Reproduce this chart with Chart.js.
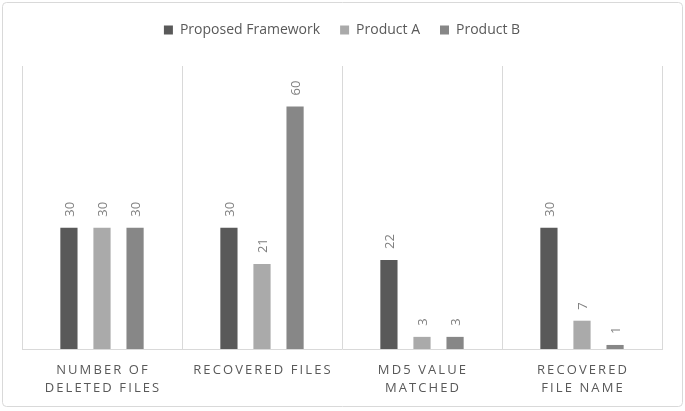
<!DOCTYPE html>
<html lang="en">
<head>
    <meta charset="UTF-8">
    <title>File Recovery Comparison</title>
    <script src="https://cdn.jsdelivr.net/npm/chart.js"></script>
    <style>
        body { margin: 0; background: #fff; }
        #wrap { width: 685px; height: 411px; position: relative; }
    </style>
</head>
<body>
    <div id="wrap"><canvas id="chartCanvas" width="685" height="411"></canvas></div>

    <script>
        const categories = [
            ['NUMBER OF', 'DELETED FILES'],
            ['RECOVERED FILES'],
            ['MD5 VALUE', 'MATCHED'],
            ['RECOVERED', 'FILE NAME']
        ];
        const proposed = [30, 30, 22, 30];
        const productA = [30, 21, 3, 7];
        const productB = [30, 60, 3, 1];

        const FONT = "'Open Sans', sans-serif";

        // frame around the whole picture
        const framePlugin = {
            id: 'frame',
            beforeDraw(chart) {
                const c = chart.ctx;
                c.save();
                c.strokeStyle = '#d9d9d9';
                c.lineWidth = 1;
                c.beginPath();
                c.roundRect(2.5, 2.5, 680, 404, 4);
                c.stroke();
                c.restore();
            }
        };

        // leave more room under the legend without moving its items
        const legendGap = {
            id: 'legendGap',
            beforeUpdate(chart) {
                const lg = chart.legend;
                if (lg && !lg._gapPatched) {
                    const fit = lg.fit;
                    lg.fit = function () {
                        fit.call(this);
                        this.height += 19;
                    };
                    lg._gapPatched = true;
                }
            }
        };

        // rotated value labels above bars
        const valueLabels = {
            id: 'valueLabels',
            afterDatasetsDraw(chart) {
                const c = chart.ctx;
                c.save();
                c.font = '13px ' + FONT;
                c.fillStyle = '#7f7f7f';
                c.textAlign = 'left';
                c.textBaseline = 'middle';
                chart.data.datasets.forEach((ds, i) => {
                    chart.getDatasetMeta(i).data.forEach((bar, j) => {
                        c.save();
                        c.translate(bar.x + 1, bar.y - 11);
                        c.rotate(-Math.PI / 2);
                        c.fillText(String(ds.data[j]), 0, 0);
                        c.restore();
                    });
                });
                c.restore();
            }
        };

        // spaced uppercase category labels
        const catLabels = {
            id: 'catLabels',
            afterDraw(chart) {
                const c = chart.ctx;
                const x = chart.scales.x;
                const bottom = chart.chartArea.bottom;
                c.save();
                c.font = '13px ' + FONT;
                c.letterSpacing = '2.1px';
                c.fillStyle = '#595959';
                c.textAlign = 'center';
                c.textBaseline = 'middle';
                categories.forEach((lines, i) => {
                    const cx = x.getPixelForValue(i);
                    lines.forEach((t, k) => {
                        c.fillText(t, cx + 1, bottom + 21 + k * 18);
                    });
                });
                c.restore();
            }
        };

        new Chart(document.getElementById('chartCanvas'), {
            type: 'bar',
            data: {
                labels: categories,
                datasets: [
                    { label: 'Proposed Framework', data: proposed, backgroundColor: '#595959' },
                    { label: 'Product A', data: productA, backgroundColor: '#aaaaaa' },
                    { label: 'Product B', data: productB, backgroundColor: '#878787' }
                ]
            },
            options: {
                responsive: false,
                animation: false,
                categoryPercentage: 0.62,
                barPercentage: 0.52,
                layout: { padding: { left: 22, right: 23, top: 3, bottom: 62 } },
                plugins: {
                    tooltip: { enabled: false },
                    legend: {
                        position: 'top',
                        labels: {
                            boxWidth: 9,
                            boxHeight: 9,
                            color: '#595959',
                            font: { family: FONT, size: 14 },
                            padding: 20
                        }
                    }
                },
                scales: {
                    x: {
                        grid: { color: '#d9d9d9', offset: true, drawTicks: false },
                        border: { color: '#d9d9d9' },
                        ticks: { display: false }
                    },
                    y: {
                        display: false,
                        min: 0,
                        max: 70
                    }
                }
            },
            plugins: [framePlugin, legendGap, valueLabels, catLabels]
        });
    </script>
</body>
</html>
